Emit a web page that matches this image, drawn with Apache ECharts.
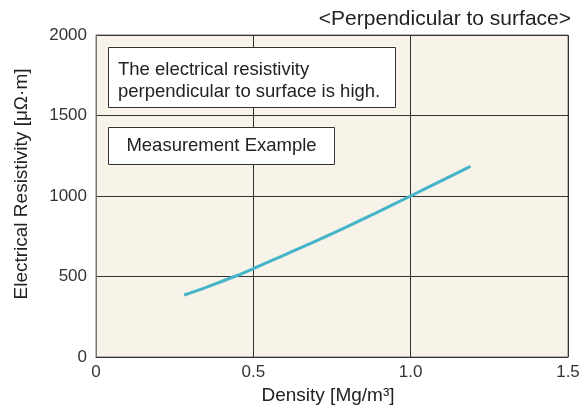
<!DOCTYPE html>
<html>
<head>
<meta charset="utf-8">
<script src="https://cdn.jsdelivr.net/npm/echarts@6/dist/echarts.min.js"></script>
<style>
html,body{margin:0;padding:0;background:#fff;}
#chart{width:585px;height:414px;}
</style>
</head>
<body>
<div id="chart"></div>
<script>
// Data
const density = [0.28, 0.35, 0.44, 0.50, 0.60, 0.70, 0.80, 0.90, 1.00, 1.10, 1.19];
const resistivity = [385, 433, 500, 549, 635, 721, 811, 905, 1000, 1097, 1184];
const xTickLabels = ['0', '0.5', '1.0', '1.5'];
const yTickLabels = ['0', '500', '1000', '1500', '2000'];
const titleText = '<Perpendicular to surface>';
const noteLines = ['The electrical resistivity', 'perpendicular to surface is high.'];
const legendNote = 'Measurement Example';
const xName = 'Density [Mg/m\u00B3]';
const yName = 'Electrical Resistivity [\u03BC\u03A9\u00B7m]';

const chart = echarts.init(document.getElementById('chart'), null, {renderer: 'canvas'});
const textFont = '"Liberation Sans", Arial, Helvetica, sans-serif';
const tickFont = {fontFamily: textFont, fontSize: 17, color: '#333'};

const option = {
  animation: false,
  backgroundColor: '#ffffff',
  title: {
    text: titleText,
    right: 9,
    top: 4,
    textStyle: {fontFamily: textFont, fontSize: 21, fontWeight: 'normal', color: '#222'}
  },
  grid: {
    left: 96, right: 17, top: 35, bottom: 57,
    show: true,
    backgroundColor: '#f7f3e9',
    borderColor: '#777',
    borderWidth: 1
  },
  xAxis: {
    type: 'value',
    min: 0, max: 1.5, interval: 0.5,
    name: xName,
    nameLocation: 'middle',
    nameGap: 25,
    nameTextStyle: {fontFamily: textFont, fontSize: 19, color: '#222', padding: [0, 8, 0, 0]},
    axisLine: {show: true, lineStyle: {color: '#333', width: 1}},
    axisTick: {show: false},
    axisLabel: {
      margin: 7,
      ...tickFont,
      formatter: function (v) { return xTickLabels[Math.round(v / 0.5)]; }
    },
    splitLine: {show: true, lineStyle: {color: '#333', width: 1}}
  },
  yAxis: {
    type: 'value',
    min: 0, max: 2000, interval: 500,
    name: yName,
    nameLocation: 'middle',
    nameGap: 65,
    nameTextStyle: {fontFamily: textFont, fontSize: 19, color: '#222', padding: [0, 0, 0, 24]},
    axisLine: {show: true, lineStyle: {color: '#777', width: 1}},
    axisTick: {show: false},
    axisLabel: {
      margin: 9,
      ...tickFont,
      formatter: function (v) { return yTickLabels[Math.round(v / 500)]; }
    },
    splitLine: {show: true, lineStyle: {color: '#333', width: 1}}
  },
  series: [{
    type: 'line',
    data: density.map((d, i) => [d, resistivity[i]]),
    smooth: 0.4,
    showSymbol: false,
    lineStyle: {color: '#45b4c9', width: 3},
    z: 5
  }],
  graphic: [
    {
      type: 'rect', z: 10,
      shape: {x: 108.5, y: 47.5, width: 287, height: 60},
      style: {fill: '#ffffff', stroke: '#333', lineWidth: 1}
    },
    {
      type: 'text', z: 11, left: 118, top: 59,
      style: {text: noteLines.join('\n'), font: '18.5px ' + textFont, fill: '#222', lineHeight: 22}
    },
    {
      type: 'rect', z: 10,
      shape: {x: 108.5, y: 127.5, width: 226, height: 37},
      style: {fill: '#ffffff', stroke: '#333', lineWidth: 1}
    },
    {
      type: 'text', z: 11, x: 221.5, y: 146,
      style: {text: legendNote, font: '18.5px ' + textFont, fill: '#222', align: 'center', verticalAlign: 'middle'}
    }
  ]
};
chart.setOption(option);
</script>
</body>
</html>
